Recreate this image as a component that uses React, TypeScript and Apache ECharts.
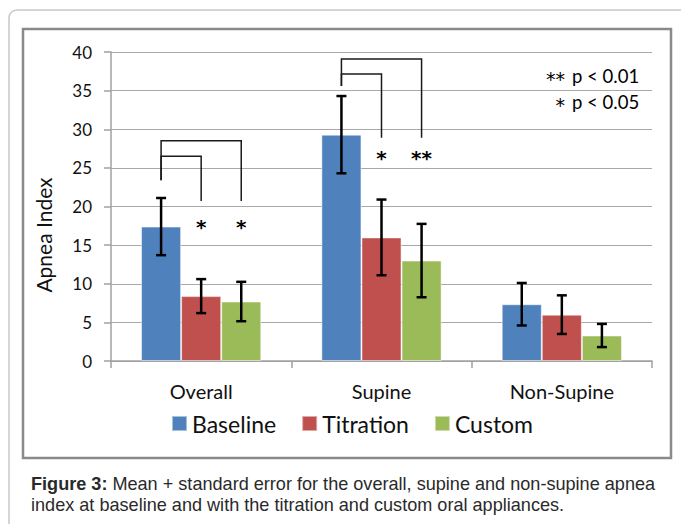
import React, { useEffect, useRef } from "react";
import * as echarts from "echarts";

const categories = ["Overall", "Supine", "Non-Supine"];
const seriesNames = ["Baseline", "Titration", "Custom"];
const baseline = [17.4, 29.3, 7.35];
const titration = [8.4, 16.0, 6.0];
const custom = [7.7, 13.0, 3.3];
const baselineSE = [3.7, 5.0, 2.75];
const titrationSE = [2.2, 4.9, 2.5];
const customSE = [2.55, 4.75, 1.5];
const yTicks = [0, 5, 10, 15, 20, 25, 30, 35, 40];
// brackets: [categoryIndex, fromSeries, toSeries, startValue, levelValue, dropValue]
const brackets = [
  [0, 0, 2, 23.4, 28.5, 20.7],
  [0, 0, 1, 23.4, 26.5, 20.7],
  [1, 0, 2, 35.6, 39.1, 28.9],
  [1, 0, 1, 35.6, 37.15, 28.9],
];
// significance marks: [categoryIndex, seriesIndex, value, label]
const marks: [number, number, number, string][] = [
  [0, 1, 18.1, "*"],
  [0, 2, 18.1, "*"],
  [1, 1, 27.05, "*"],
  [1, 2, 27.05, "**"],
];
const legendNotes = [
  ["**", "p < 0.01"],
  ["*", "p < 0.05"],
];
const caption = [
  "Mean + standard error for the overall, supine and non-supine apnea",
  "index at baseline and with the titration and custom oral appliances.",
];

const colors = ["#4F81BD", "#C0504D", "#9BBB59"];
const FONT = "Lato, 'Open Sans', sans-serif";
const STAR_FONT = "DejaVu Sans";
const CAP_FONT = "Liberation Sans";
const CAP_SIZE = 18.1;

export default function App() {
  const ref = useRef<HTMLDivElement>(null);
  useEffect(() => {
    if (!ref.current) return;
    const chart = echarts.init(ref.current, undefined, { renderer: "svg" });
    const values = [baseline, titration, custom];
    const ses = [baselineSE, titrationSE, customSE];

    const barW = (api: any) => (api.size([1, 0])[0] * (2 / 3)) / 3;

    const errorSeries = values.map((vals, k) => ({
      type: "custom",
      name: seriesNames[k] + " SE",
      z: 5,
      silent: true,
      data: vals.map((v, i) => [i, v - ses[k][i], v + ses[k][i]]),
      renderItem: (params: any, api: any) => {
        const cat = api.value(0);
        const lo = api.coord([cat, api.value(1)]);
        const hi = api.coord([cat, api.value(2)]);
        const w = barW(api);
        const x = lo[0] + (k - 1) * w;
        const cap = 5;
        const st = { stroke: "#000", lineWidth: 2.5 };
        return {
          type: "group",
          children: [
            { type: "line", shape: { x1: x, y1: lo[1], x2: x, y2: hi[1] }, style: st },
            { type: "line", shape: { x1: x - cap, y1: lo[1], x2: x + cap, y2: lo[1] }, style: st },
            { type: "line", shape: { x1: x - cap, y1: hi[1], x2: x + cap, y2: hi[1] }, style: st },
          ],
        };
      },
    }));

    const bracketSeries = {
      type: "custom",
      name: "brackets",
      z: 6,
      silent: true,
      data: brackets,
      renderItem: (params: any, api: any) => {
        const cat = api.value(0);
        const from = api.value(1);
        const to = api.value(2);
        const w = barW(api);
        const c = api.coord([cat, api.value(3)]);
        const lv = api.coord([cat, api.value(4)]);
        const dr = api.coord([cat, api.value(5)]);
        const x1 = c[0] + (from - 1) * w;
        const x2 = c[0] + (to - 1) * w;
        return {
          type: "polyline",
          shape: {
            points: [
              [x1, c[1]],
              [x1, lv[1]],
              [x2, lv[1]],
              [x2, dr[1]],
            ],
          },
          style: { stroke: "#1a1a1a", lineWidth: 1.5, fill: null },
        };
      },
    };

    const markSeries = {
      type: "custom",
      name: "marks",
      z: 6,
      silent: true,
      data: marks,
      renderItem: (params: any, api: any) => {
        const cat = api.value(0);
        const s = api.value(1);
        const p = api.coord([cat, api.value(2)]);
        const w = barW(api);
        const m = marks[params.dataIndex];
        return {
          type: "text",
          x: p[0] + (s - 1) * w,
          y: p[1] + 6,
          style: {
            text: m[3],
            fontSize: 20,
            fontWeight: "bold",
            fontFamily: STAR_FONT,
            fill: "#000",
            align: "center",
            verticalAlign: "middle",
          },
        };
      },
    };

    chart.setOption({
      animation: false,
      textStyle: { fontFamily: FONT },
      grid: { left: 111, right: 29, top: 52, bottom: 163 },
      legend: {
        data: seriesNames,
        left: 171,
        top: 412,
        itemWidth: 15,
        itemHeight: 15,
        itemGap: 25,
        padding: 0,
        icon: "rect",
        textStyle: { fontSize: 23, color: "#111", fontFamily: FONT },
      },
      xAxis: {
        type: "category",
        data: categories,
        axisLine: { lineStyle: { color: "#a0a0a0", width: 1.5 } },
        axisTick: { show: true, length: 7, lineStyle: { color: "#a0a0a0", width: 1.5 } },
        axisLabel: { fontSize: 20, color: "#111", margin: 20, fontFamily: FONT },
      },
      yAxis: {
        type: "value",
        min: yTicks[0],
        max: yTicks[yTicks.length - 1],
        interval: 5,
        axisLine: { show: true, lineStyle: { color: "#a0a0a0", width: 1.5 } },
        axisTick: { show: true, length: 7, lineStyle: { color: "#a0a0a0", width: 1.5 } },
        splitLine: { lineStyle: { color: "#a8a8a8", width: 1.2 } },
        axisLabel: { fontSize: 17, color: "#111", margin: 19, fontFamily: FONT },
      },
      series: [
        ...values.map((vals, k) => ({
          type: "bar",
          name: seriesNames[k],
          data: vals,
          barGap: "0%",
          barCategoryGap: "33.33%",
          itemStyle: { color: colors[k], borderColor: "rgba(255,255,255,0.5)", borderWidth: 1 },
          silent: true,
        })),
        ...errorSeries,
        bracketSeries,
        markSeries,
      ],
      graphic: [
        {
          type: "rect",
          shape: { x: 9, y: 10, width: 720, height: 600, r: 8 },
          style: { fill: "none", stroke: "#c8c8c8", lineWidth: 1.5 },
          silent: true,
          z: -10,
        },
        {
          type: "rect",
          shape: { x: 23, y: 29, width: 648, height: 429 },
          style: { fill: "none", stroke: "#8a8a8a", lineWidth: 2.5 },
          silent: true,
        },
        {
          type: "text",
          x: 43,
          y: 235,
          rotation: Math.PI / 2,
          style: {
            text: "Apnea Index",
            fontSize: 21,
            fontFamily: FONT,
            fill: "#111",
            align: "center",
            verticalAlign: "middle",
          },
        },
        ...legendNotes.map((n, i) => ({
          type: "group",
          children: [
            {
              type: "text",
              x: 565,
              y: 79 + i * 26,
              style: { text: n[0], fontSize: 19, fontFamily: STAR_FONT, fill: "#000", align: "right", verticalAlign: "middle" },
            },
            {
              type: "text",
              x: 572,
              y: 76 + i * 26,
              style: { text: n[1], fontSize: 18.5, fontFamily: FONT, fill: "#000", align: "left", verticalAlign: "middle" },
            },
          ],
        })),
        {
          type: "text",
          x: 31,
          y: 484,
          style: {
            text: "{b|Figure 3:} {n|" + caption[0] + "}",
            fontSize: CAP_SIZE,
            fontFamily: CAP_FONT,
            fill: "#2a2a2a",
            verticalAlign: "middle",
            rich: {
              b: { fontWeight: "bold", fontSize: CAP_SIZE, fontFamily: CAP_FONT, fill: "#2a2a2a" },
              n: { fontSize: CAP_SIZE, fontFamily: CAP_FONT, fill: "#2a2a2a" },
            },
          },
        },
        {
          type: "text",
          x: 31,
          y: 505,
          style: {
            text: caption[1],
            fontSize: CAP_SIZE,
            fontFamily: CAP_FONT,
            fill: "#2a2a2a",
            verticalAlign: "middle",
          },
        },
      ],
    });
    return () => chart.dispose();
  }, []);
  return (
    <div
      ref={ref}
      style={{ position: "fixed", left: 0, top: 0, width: 681, height: 524, background: "#fff" }}
    />
  );
}
